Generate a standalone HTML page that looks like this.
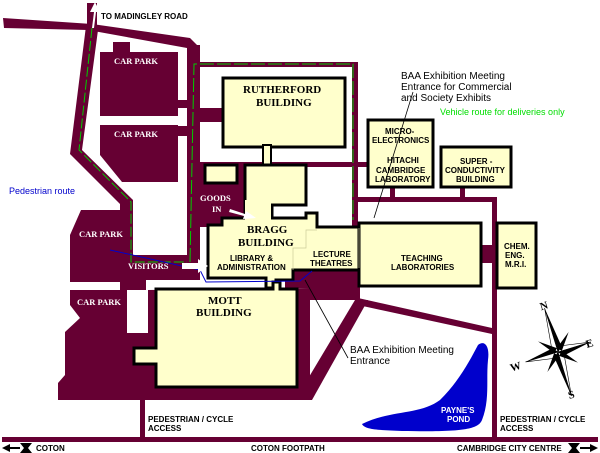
<!DOCTYPE html>
<html><head><meta charset="utf-8"><style>
html,body{margin:0;padding:0;background:#fff;width:600px;height:453px;overflow:hidden}
svg{display:block}
.s{font-family:"Liberation Sans",sans-serif;font-weight:bold;font-size:8px;fill:#000}
.b{font-family:"Liberation Serif",serif;font-weight:bold;font-size:11px;fill:#000}
.cp{font-family:"Liberation Serif",serif;font-weight:bold;font-size:8.5px;fill:#fff}
.n{font-family:"Liberation Sans",sans-serif;font-size:10px;fill:#000}
</style></head><body>
<svg width="600" height="453" viewBox="0 0 600 453" xmlns="http://www.w3.org/2000/svg">
<g fill="#660033" stroke="none">
<!-- top road -->
<polygon points="3,18 92,24 190,38 200,48 200,62 187,62 187,48 88,30 4,28"/>
<!-- madingley spur -->
<rect x="87" y="3" width="10" height="25"/>
<!-- left road -->
<polygon points="86,26 98,30 82,150 133,200 133,235 120,235 120,204 70,154"/>
<!-- vertical road near car parks -->
<rect x="187" y="45" width="13" height="225"/>
<!-- top road right -->
<rect x="195" y="62" width="163" height="5"/>
<rect x="352" y="62" width="6" height="170"/>
<rect x="200" y="108" width="25" height="14"/>
<rect x="200" y="162" width="172" height="5"/>
<!-- car parks -->
<rect x="100" y="52" width="78" height="64"/>
<rect x="113" y="42" width="17" height="12"/>
<rect x="178" y="100" width="10" height="8"/>
<polygon points="100,125 178,125 178,182 122,182 100,155"/>
<rect x="178" y="126" width="10" height="10"/>
<!-- left big area -->
<polygon points="81,210 120,210 120,200 133,200 133,255 200,255 200,280 146,280 146,290 127,290 127,333 148,333 148,290 310,288 310,400 58,400 58,383 65,375 65,332 80,318 70,305 70,290 120,290 120,282 70,282 70,235"/>
<!-- goods-in area -->
<rect x="200" y="167" width="45" height="60"/>
<!-- maroon south of Bragg -->
<polygon points="285,268 360,268 360,300 310,300 310,288 285,288"/>
<!-- diagonal roads -->
<polygon points="300,392 355,300 368,300 312,400 300,400"/>
<polygon points="358,298 492,328 492,334 358,305"/>
<!-- right roads -->
<rect x="355" y="197" width="142" height="5"/>
<rect x="492" y="197" width="5" height="240"/>
<rect x="390" y="185" width="5" height="14"/>
<rect x="460" y="185" width="5" height="14"/>
<rect x="480" y="245" width="18" height="18"/>
<rect x="358" y="162" width="12" height="5"/>
<!-- bottom road and access -->
<rect x="2" y="437" width="596" height="5"/>
<rect x="140" y="400" width="5" height="40"/>
</g>
<!-- white cutouts -->
<g fill="#fff">
<rect x="133" y="185" width="52" height="68" rx="6"/>
<rect x="202" y="70" width="18" height="35" rx="5"/>
<rect x="202" y="125" width="18" height="33" rx="5"/>
</g>
<!-- buildings -->
<g fill="#FFFFCC" stroke="#000" stroke-width="3">
<rect x="223" y="78" width="122" height="69"/>
<rect x="263" y="145" width="8" height="22" stroke-width="2"/>
<rect x="205" y="165" width="32" height="18"/>
<polygon points="245,165 306,165 306,205 272,205 272,218 306,218 306,213 317,213 317,227 359,227 359,270 293,270 293,280 276,280 276,288 266,288 266,278 208,278 208,225 222,225 222,218 245,218"/>
<rect x="359" y="223" width="122" height="63"/>
<rect x="497" y="223" width="39" height="65"/>
<rect x="368" y="120" width="65" height="67"/>
<rect x="441" y="147" width="70" height="40"/>
<polygon points="156,289 273,289 273,282 280,282 280,289 297,289 297,387 156,387 156,364 134,364 134,348 156,348"/>
</g>
<rect x="245" y="200" width="26" height="22" fill="#FFFFCC"/>
<polyline points="293,270 293,248 306,248 306,230 317,230" fill="none" stroke="#cccc99" stroke-width="0.7"/>
<line x1="359" y1="228" x2="359" y2="268" stroke="#cccc99" stroke-width="0.7"/>
<!-- pond -->
<path d="M362,424 C390,410 420,415 440,400 C460,380 470,360 478,345 C484,340 490,345 488,360 C486,380 490,400 482,420 C478,430 460,432 402,431 C380,430 365,430 362,424 Z" fill="#0000CC"/>
<!-- routes -->
<polyline points="92,28 79,150 131,202 131,262 187,262" fill="none" stroke="#00cc00" stroke-width="1" stroke-dasharray="10,3"/>
<polyline points="190,262 194,64 353,64 353,220" fill="none" stroke="#00cc00" stroke-width="1" stroke-dasharray="14,3"/>
<polyline points="110,250 200,270 206,282 300,281 312,271" fill="none" stroke="#0000cc" stroke-width="1"/>
<!-- arrows -->
<polygon points="182,263 198,263 198,259 208,266 198,273 198,269 182,269" fill="#fff"/>
<polygon points="92,28 94,12 90,12 95,2 100,12 96,12 94,28" fill="#fff"/>
<polygon points="230,209 245,214 246,211 256,218 243,219 244,216 229,212" fill="#fff"/>
<!-- leader lines -->
<line x1="374" y1="218" x2="413" y2="92" stroke="#000" stroke-width="0.8"/>
<line x1="305" y1="280" x2="348" y2="358" stroke="#000" stroke-width="0.8"/>
<!-- compass -->
<g transform="translate(558,352) rotate(-17)">
<polygon points="0,-46 5,-5 0,0 -5,-5" fill="#000"/>
<polygon points="0,46 5,5 0,0 -5,5" fill="#000"/>
<polygon points="34,0 5,5 0,0 5,-5" fill="#000"/>
<polygon points="-34,0 -5,5 0,0 -5,-5" fill="#000"/>
<polygon points="0,-46 -5,-5 0,0" fill="#fff" stroke="#000" stroke-width="0.6"/>
<polygon points="34,0 5,-5 0,0" fill="#fff" stroke="#000" stroke-width="0.6"/>
<polygon points="-34,0 -5,5 0,0" fill="#fff" stroke="#000" stroke-width="0.6"/>
<polygon points="0,46 5,5 0,0" fill="#fff" stroke="#000" stroke-width="0.6"/>
<polygon points="16,-16 4,0 0,-4" fill="#000"/>
<polygon points="-16,16 -4,0 0,4" fill="#000"/>
<polygon points="16,16 0,4 4,0" fill="#000"/>
<polygon points="-16,-16 0,-4 -4,0" fill="#000"/>
</g>
<text x="540" y="309" class="b" font-size="10" transform="rotate(-17 545 306)">N</text>
<text x="586" y="347" class="b" font-size="10" transform="rotate(-17 590 344)">E</text>
<text x="568" y="398" class="b" font-size="10" transform="rotate(-17 572 394)">S</text>
<text x="510" y="370" class="b" font-size="10" transform="rotate(-17 516 366)">W</text>
<!-- labels -->
<text x="101" y="19" class="s" font-weight="normal" font-size="7.5">TO MADINGLEY ROAD</text>
<text x="114" y="64" class="cp">CAR PARK</text>
<text x="114" y="137" class="cp">CAR PARK</text>
<text x="79" y="237" class="cp">CAR PARK</text>
<text x="77" y="305" class="cp">CAR PARK</text>
<text x="200" y="201" class="cp">GOODS</text>
<text x="212" y="212" class="cp">IN</text>
<text x="128" y="269" class="cp" font-size="7">VISITORS</text>
<text x="9" y="194" font-family="Liberation Sans,sans-serif" font-size="9" fill="#0000cc">Pedestrian route</text>
<text x="243" y="93" class="b">RUTHERFORD</text>
<text x="256" y="106" class="b">BUILDING</text>
<text x="247" y="233" class="b">BRAGG</text>
<text x="238" y="246" class="b">BUILDING</text>
<text x="230" y="261" class="s">LIBRARY &amp;</text>
<text x="217" y="270" class="s">ADMINISTRATION</text>
<text x="313" y="257" class="s">LECTURE</text>
<text x="310" y="266" class="s">THEATRES</text>
<text x="401" y="261" class="s">TEACHING</text>
<text x="391" y="270" class="s">LABORATORIES</text>
<text x="504" y="249" class="s">CHEM.</text>
<text x="505" y="258" class="s">ENG.</text>
<text x="505" y="267" class="s">M.R.I.</text>
<text x="385" y="134" class="s">MICRO-</text>
<text x="372" y="143" class="s">ELECTRONICS</text>
<text x="387" y="163" class="s">HITACHI</text>
<text x="376" y="173" class="s">CAMBRIDGE</text>
<text x="375" y="182" class="s">LABORATORY</text>
<text x="460" y="164" class="s">SUPER -</text>
<text x="445" y="173" class="s">CONDUCTIVITY</text>
<text x="456" y="182" class="s">BUILDING</text>
<text x="208" y="304" class="b">MOTT</text>
<text x="196" y="316" class="b">BUILDING</text>
<text x="401" y="79" class="n">BAA Exhibition Meeting</text>
<text x="401" y="90" class="n">Entrance for Commercial</text>
<text x="401" y="101" class="n">and Society Exhibits</text>
<text x="440" y="115" font-family="Liberation Sans,sans-serif" font-size="9" fill="#00dd00">Vehicle route for deliveries only</text>
<text x="350" y="353" class="n">BAA Exhibition Meeting</text>
<text x="350" y="364" class="n">Entrance</text>
<text x="148" y="422" class="s" font-size="7.5">PEDESTRIAN / CYCLE</text>
<text x="148" y="431" class="s" font-size="7.5">ACCESS</text>
<text x="500" y="422" class="s" font-size="7.5">PEDESTRIAN / CYCLE</text>
<text x="500" y="431" class="s" font-size="7.5">ACCESS</text>
<text x="441" y="413" class="s" font-weight="normal" font-size="7.5" fill="#fff" style="fill:#fff">PAYNE'S</text>
<text x="447" y="422" class="s" font-weight="normal" font-size="7.5" style="fill:#fff">POND</text>
<text x="36" y="451" class="s" font-size="7.5">COTON</text>
<text x="251" y="451" class="s" font-size="7.5">COTON FOOTPATH</text>
<text x="457" y="451" class="s" font-size="7.5">CAMBRIDGE CITY CENTRE</text>
<!-- bottom arrows -->
<g fill="#000">
<polygon points="2,448 10,444 10,452"/><rect x="8" y="447" width="12" height="2"/><polygon points="20,443 32,443 28,448 32,453 20,453 24,448"/>
<polygon points="598,448 590,444 590,452"/><rect x="580" y="447" width="12" height="2"/><polygon points="580,443 568,443 572,448 568,453 580,453 576,448"/>
</g>
</svg>
</body></html>
